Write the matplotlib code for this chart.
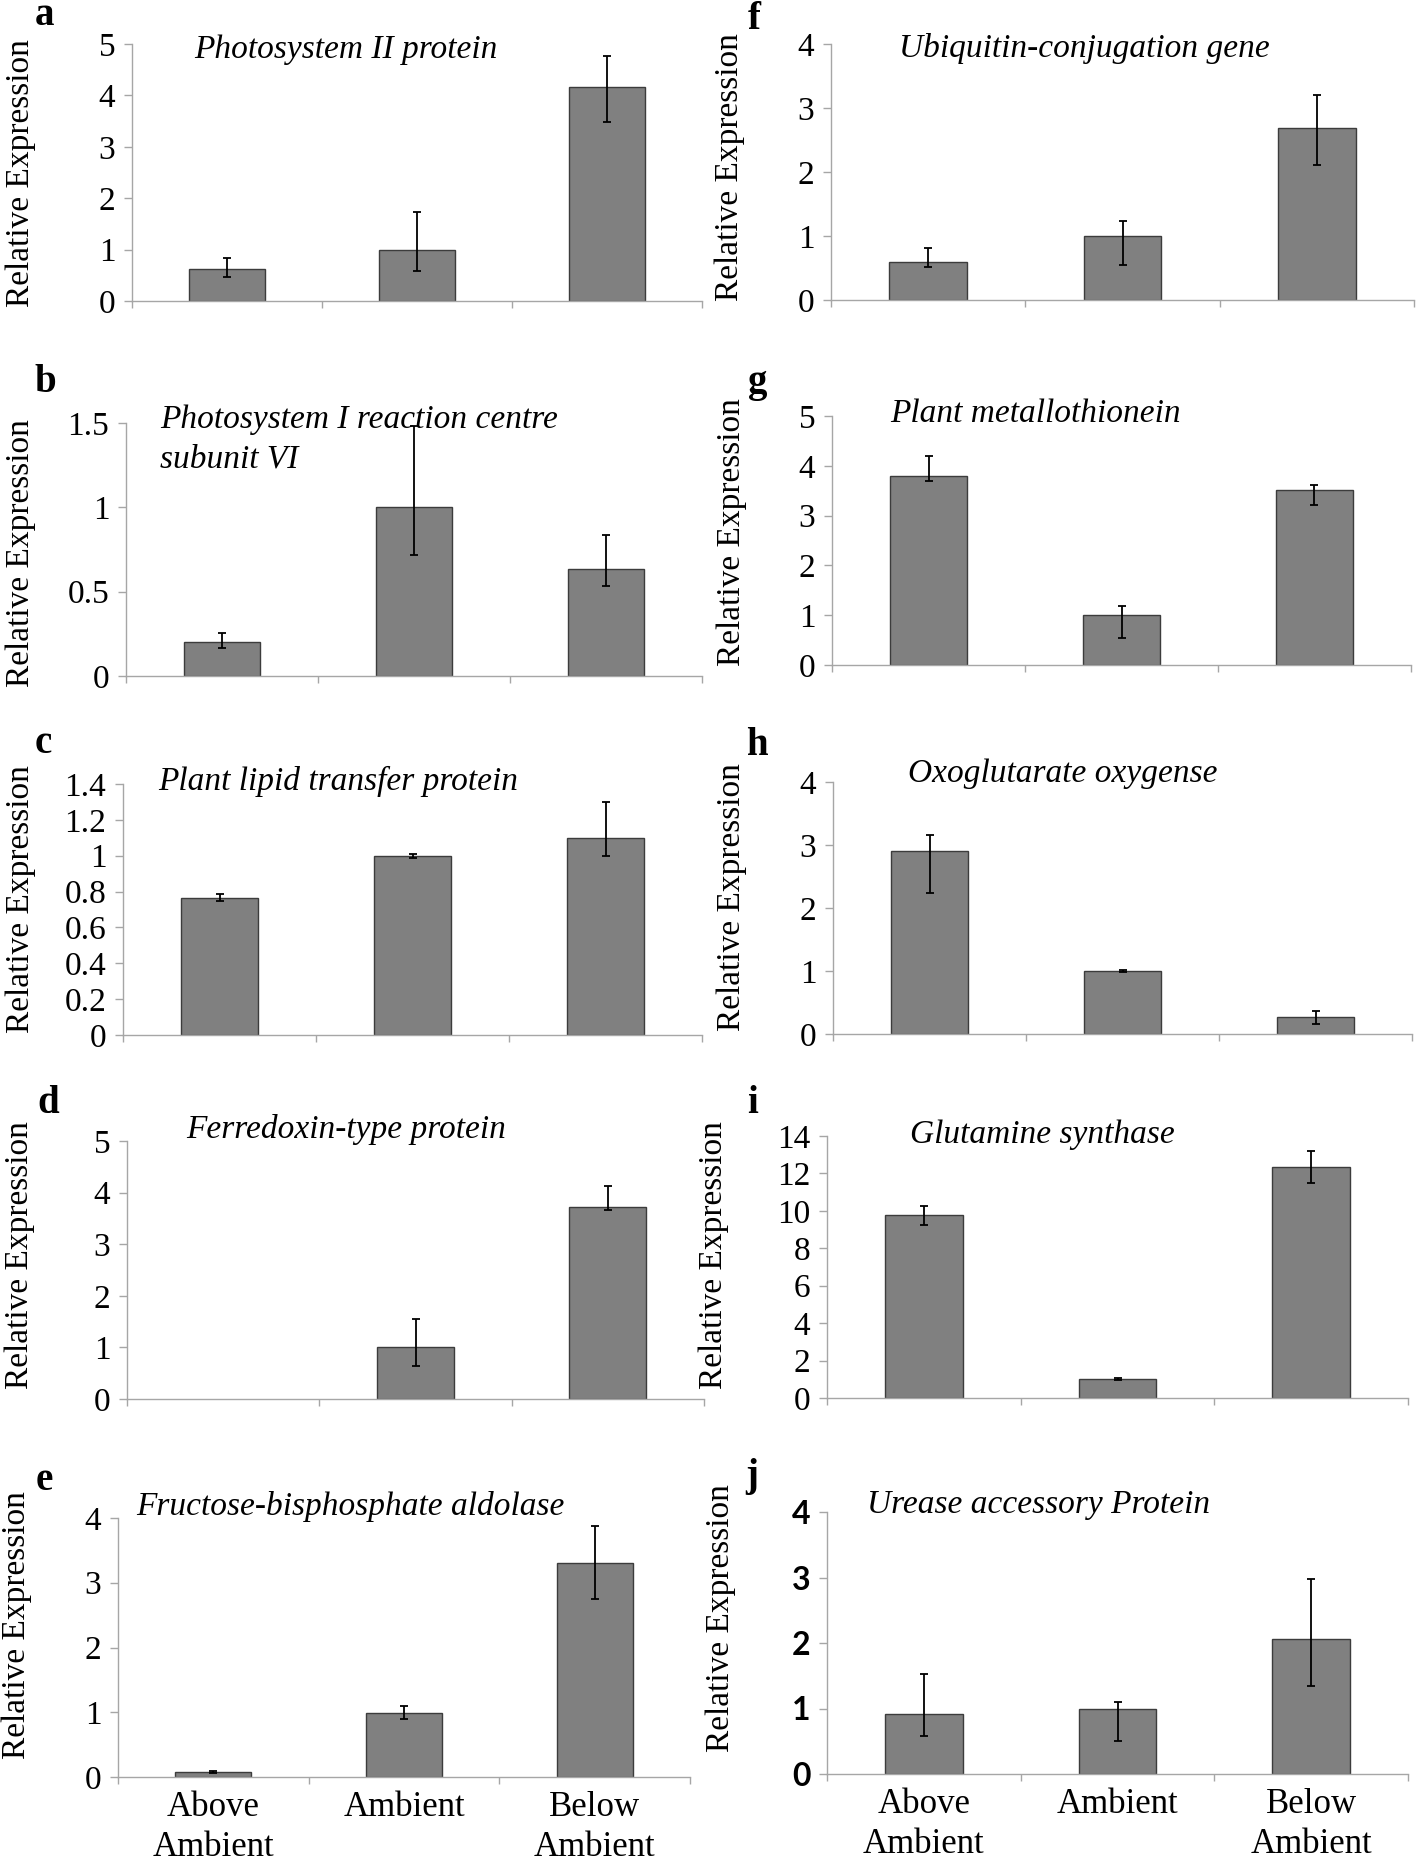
import numpy as np
import matplotlib
matplotlib.use('Agg')
import matplotlib.pyplot as plt
from matplotlib.ticker import FuncFormatter

W, H = 1418, 1863

categories = ['Above\nAmbient', 'Ambient', 'Below\nAmbient']

# means and error (lower, upper)
a_vals = [0.62, 1.0, 4.17]
a_lo = [0.16, 0.42, 0.69]
a_hi = [0.22, 0.73, 0.60]

b_vals = [0.204, 1.0, 0.633]
b_lo = [0.038, 0.282, 0.099]
b_hi = [0.049, 0.48, 0.204]

c_vals = [0.762, 1.0, 1.10]
c_lo = [0.017, 0.011, 0.10]
c_hi = [0.022, 0.011, 0.20]

d_vals = [0.0, 1.0, 3.72]
d_lo = [0.0, 0.36, 0.06]
d_hi = [0.0, 0.55, 0.41]

e_vals = [0.077, 0.99, 3.31]
e_lo = [0.020, 0.10, 0.56]
e_hi = [0.021, 0.10, 0.56]

f_vals = [0.60, 1.0, 2.69]
f_lo = [0.09, 0.45, 0.58]
f_hi = [0.21, 0.24, 0.51]

g_vals = [3.80, 1.0, 3.51]
g_lo = [0.11, 0.45, 0.29]
g_hi = [0.40, 0.19, 0.10]

h_vals = [2.90, 1.0, 0.27]
h_lo = [0.66, 0.02, 0.106]
h_hi = [0.26, 0.02, 0.10]

i_vals = [9.79, 1.0, 12.33]
i_lo = [0.52, 0.06, 0.83]
i_hi = [0.49, 0.06, 0.87]

j_vals = [0.92, 1.0, 2.06]
j_lo = [0.335, 0.49, 0.71]
j_hi = [0.60, 0.10, 0.91]

panels = [
    # letter, title, vals, lo, hi, yticks, axes box px (l, r, top, bottom)
    ('a', 'Photosystem II protein', a_vals, a_lo, a_hi, [0, 1, 2, 3, 4, 5], (132, 702, 44, 301)),
    ('b', 'Photosystem I reaction centre\nsubunit VI', b_vals, b_lo, b_hi, [0, 0.5, 1, 1.5], (126, 702, 423, 676)),
    ('c', 'Plant lipid transfer protein', c_vals, c_lo, c_hi, [0, 0.2, 0.4, 0.6, 0.8, 1, 1.2, 1.4], (123, 702, 784, 1035)),
    ('d', 'Ferredoxin-type protein', d_vals, d_lo, d_hi, [0, 1, 2, 3, 4, 5], (127, 704, 1141, 1399)),
    ('e', 'Fructose-bisphosphate aldolase', e_vals, e_lo, e_hi, [0, 1, 2, 3, 4], (118, 690, 1518, 1777)),
    ('f', 'Ubiquitin-conjugation gene', f_vals, f_lo, f_hi, [0, 1, 2, 3, 4], (831, 1414, 44, 300)),
    ('g', 'Plant metallothionein', g_vals, g_lo, g_hi, [0, 1, 2, 3, 4, 5], (832, 1411, 416, 665)),
    ('h', 'Oxoglutarate oxygense', h_vals, h_lo, h_hi, [0, 1, 2, 3, 4], (833, 1412, 782, 1034)),
    ('i', 'Glutamine synthase', i_vals, i_lo, i_hi, [0, 2, 4, 6, 8, 10, 12, 14], (827, 1408, 1136, 1398)),
    ('j', 'Urease accessory Protein', j_vals, j_lo, j_hi, [0, 1, 2, 3, 4], (827, 1408, 1512, 1774)),
]

# text positions in px: letter (x, baseline), title (left x, baseline), ylabel centre (x, y)
letter_pos = {'a': (44, 25), 'b': (45, 392), 'c': (43, 753), 'd': (48, 1113), 'e': (44, 1490),
              'f': (754, 29), 'g': (758, 392), 'h': (757, 755), 'i': (753, 1113), 'j': (752, 1486)}
title_pos = {'a': (194, 58), 'b': (160, 428), 'c': (158, 790), 'd': (186, 1138), 'e': (136, 1515),
             'f': (899, 57), 'g': (890, 422), 'h': (908, 782), 'i': (910, 1143), 'j': (867, 1513)}
ylab_pos = {'a': (21, 173), 'b': (21, 553), 'c': (21, 899), 'd': (20, 1255), 'e': (17, 1625),
            'f': (730, 167), 'g': (732, 532), 'h': (732, 897), 'i': (714, 1255), 'j': (721, 1618)}

serif = 'Liberation Serif'
plt.rcParams['font.family'] = serif

fig = plt.figure(figsize=(W / 100, H / 100), dpi=100)
x = np.arange(3)

for letter, title, vals, lo, hi, yticks, box in panels:
    l, r, t, b = box
    ax = fig.add_axes([l / W, 1 - b / H, (r - l) / W, (b - t) / H])
    vals_a = np.array(vals, dtype=float)
    show = vals_a > 0
    ax.bar(x[show], vals_a[show], width=0.4, color='#808080', edgecolor='#3c3c3c', linewidth=1.0, zorder=2)
    ax.errorbar(x[show], vals_a[show], yerr=[np.array(lo)[show], np.array(hi)[show]],
                fmt='none', ecolor='black', elinewidth=1.3, capsize=3, capthick=1.3, zorder=3)
    ax.set_xlim(-0.5, 2.5)
    ax.set_ylim(0, yticks[-1])
    ax.set_yticks(yticks)
    ax.yaxis.set_major_formatter(FuncFormatter(lambda v, p: '%g' % v))
    ax.set_xticks([-0.5, 0.5, 1.5, 2.5])
    ax.set_xticklabels([])
    for s in ['top', 'right']:
        ax.spines[s].set_visible(False)
    for s in ['left', 'bottom']:
        ax.spines[s].set_color('#a6a6a6')
        ax.spines[s].set_linewidth(1.0)
    ax.tick_params(axis='y', length=6, width=1.0, color='#a6a6a6', pad=6, labelsize=24)
    ax.tick_params(axis='x', length=5, width=1.0, color='#a6a6a6')
    if letter == 'j':
        for lab in ax.get_yticklabels():
            lab.set_fontfamily('Lato')
            lab.set_fontweight('bold')
            lab.set_fontsize(23)
    if letter in ('e', 'j'):
        ax.set_xticks(x, minor=True)
        ax.set_xticklabels(categories, minor=True, fontsize=25, linespacing=1.3, va='top')
        ax.tick_params(axis='x', which='minor', length=0, pad=10)

    lx, ly = letter_pos[letter]
    fig.text(lx / W, 1 - ly / H, letter, fontsize=28, fontweight='bold', ha='center', va='baseline')
    tx, ty = title_pos[letter]
    if '\n' in title:
        lines = title.split('\n')
        for k, line in enumerate(lines):
            fig.text(tx / W, 1 - (ty + 39 * k) / H, line, fontsize=24, style='italic',
                     ha='left', va='baseline')
    else:
        fig.text(tx / W, 1 - ty / H, title, fontsize=24, style='italic', ha='left', va='baseline')
    yx, yy = ylab_pos[letter]
    fig.text(yx / W, 1 - yy / H, 'Relative Expression', fontsize=24, rotation=90,
             ha='center', va='center')

fig.savefig('out.png', dpi=100)
